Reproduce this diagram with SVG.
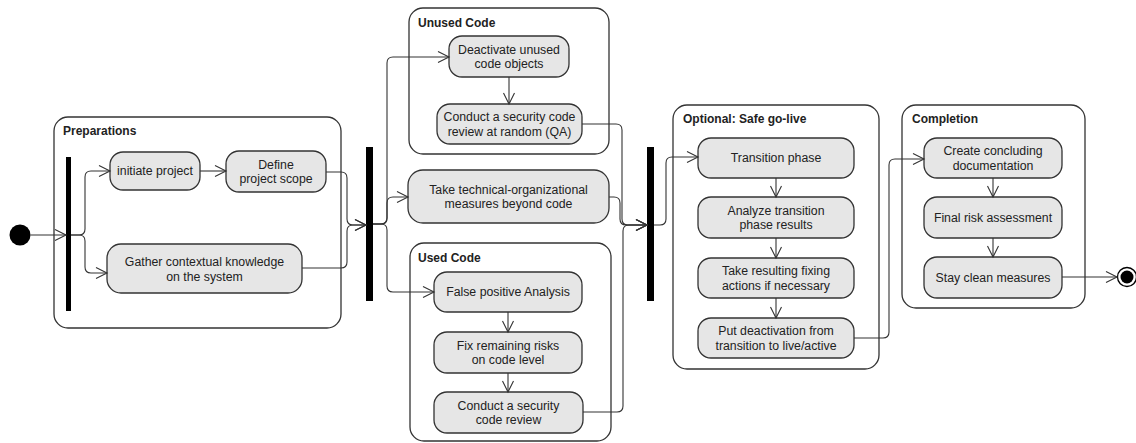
<svg xmlns="http://www.w3.org/2000/svg" width="1136" height="443" viewBox="0 0 1136 443">
<defs>
<marker id="arr" markerUnits="userSpaceOnUse" markerWidth="14" markerHeight="14" refX="11" refY="6" orient="auto" overflow="visible">
<path d="M0,0.5 L11,6 L0,11.5" fill="none" stroke="#333" stroke-width="1.1"/>
</marker>
</defs>
<style>
.container{fill:#fff;stroke:#333;stroke-width:1.3}
.node rect{fill:#e6e6e6;stroke:#333;stroke-width:1.3}
text{font-family:"Liberation Sans",Arial,sans-serif;font-size:12.3px;fill:#222}
.lbl{text-anchor:middle}
.title{font-weight:bold;font-size:12px}
.bar{fill:#000}
#connectors path{fill:none;stroke:#333;stroke-width:1.1;marker-end:url(#arr)}
</style>
<rect width="1136" height="443" fill="#fff"/>

<!-- containers -->
<g id="preparations"><rect class="container" x="54" y="117" width="287" height="211" rx="14"/><text class="title" x="63" y="135">Preparations</text></g>
<g id="unused-code"><rect class="container" x="409" y="8" width="200" height="146" rx="14"/><text class="title" x="418" y="27">Unused Code</text></g>
<g id="used-code"><rect class="container" x="410" y="243" width="201" height="198" rx="14"/><text class="title" x="418" y="262">Used Code</text></g>
<g id="safe-go-live"><rect class="container" x="673" y="105" width="206" height="264" rx="14"/><text class="title" x="683" y="123">Optional: Safe go-live</text></g>
<g id="completion"><rect class="container" x="902" y="105" width="183" height="203" rx="14"/><text class="title" x="912" y="123">Completion</text></g>

<!-- start / bars / end -->
<g id="start"><circle cx="20" cy="235" r="10.5" fill="#000"/></g>
<g id="fork1"><rect class="bar" x="66" y="157" width="5" height="154"/></g>
<g id="join2"><rect class="bar" x="366" y="147" width="7" height="154"/></g>
<g id="join3"><rect class="bar" x="647" y="147" width="7" height="154"/></g>
<g id="end"><circle cx="1127" cy="277" r="9.5" fill="#fff" stroke="#000" stroke-width="1.3"/><circle cx="1127" cy="277" r="6.5" fill="#000"/></g>

<!-- nodes -->
<g id="initiate" class="node"><rect x="110" y="152" width="90" height="38" rx="13"/><text class="lbl" x="155" y="175.3">initiate project</text></g>
<g id="define" class="node"><rect x="226" y="151" width="100" height="41" rx="13"/><text class="lbl" x="276" y="168.5">Define</text><text class="lbl" x="276" y="183">project scope</text></g>
<g id="gather" class="node"><rect x="107" y="244" width="195" height="49" rx="14"/><text class="lbl" x="204.5" y="266">Gather contextual knowledge</text><text class="lbl" x="204.5" y="280.5">on the system</text></g>
<g id="deactivate" class="node"><rect x="449" y="36" width="120" height="41" rx="13"/><text class="lbl" x="509" y="53.5">Deactivate unused</text><text class="lbl" x="509" y="68">code objects</text></g>
<g id="qa-review" class="node"><rect x="437" y="104" width="145" height="40" rx="13"/><text class="lbl" x="509.5" y="121">Conduct a security code</text><text class="lbl" x="509.5" y="135.5">review at random (QA)</text></g>
<g id="tom" class="node"><rect x="408" y="170" width="201" height="53" rx="15"/><text class="lbl" x="508.5" y="193.5">Take technical-organizational</text><text class="lbl" x="508.5" y="208">measures beyond code</text></g>
<g id="false-positive" class="node"><rect x="434" y="272" width="148" height="40" rx="13"/><text class="lbl" x="508" y="296.3">False positive Analysis</text></g>
<g id="fix-risks" class="node"><rect x="434" y="332" width="148" height="41" rx="13"/><text class="lbl" x="508" y="349.5">Fix remaining risks</text><text class="lbl" x="508" y="364">on code level</text></g>
<g id="code-review" class="node"><rect x="434" y="392" width="149" height="41" rx="13"/><text class="lbl" x="508.5" y="409.5">Conduct a security</text><text class="lbl" x="508.5" y="424">code review</text></g>
<g id="transition" class="node"><rect x="698" y="138" width="156" height="40" rx="13"/><text class="lbl" x="776" y="162.3">Transition phase</text></g>
<g id="analyze" class="node"><rect x="698" y="197" width="156" height="41" rx="13"/><text class="lbl" x="776" y="214.5">Analyze transition</text><text class="lbl" x="776" y="229">phase results</text></g>
<g id="fixing-actions" class="node"><rect x="698" y="258" width="156" height="40" rx="13"/><text class="lbl" x="776" y="275">Take resulting fixing</text><text class="lbl" x="776" y="289.5">actions if necessary</text></g>
<g id="put-live" class="node"><rect x="698" y="318" width="156" height="40" rx="13"/><text class="lbl" x="776" y="335">Put deactivation from</text><text class="lbl" x="776" y="349.5">transition to live/active</text></g>
<g id="documentation" class="node"><rect x="924" y="138" width="138" height="40" rx="13"/><text class="lbl" x="993" y="155">Create concluding</text><text class="lbl" x="993" y="169.5">documentation</text></g>
<g id="final-risk" class="node"><rect x="924" y="197" width="138" height="41" rx="13"/><text class="lbl" x="993" y="221.8">Final risk assessment</text></g>
<g id="stay-clean" class="node"><rect x="924" y="257" width="138" height="41" rx="13"/><text class="lbl" x="993" y="281.8">Stay clean measures</text></g>

<!-- connectors -->
<g id="connectors">
<path d="M30.5,235 L66,235"/>
<path d="M71,235 L79,235 Q85,235 85,229 L85,177 Q85,171 91,171 L110,171"/>
<path d="M71,235 L79,235 Q85,235 85,241 L85,267 Q85,273 91,273 L107,273"/>
<path d="M200,171 L226,171"/>
<path d="M326,172 L341,172 Q347,172 347,178 L347,219 Q347,225 353,225 L366,225"/>
<path d="M302,268 L341,268 Q347,268 347,262 L347,231 Q347,225 353,225 L366,225"/>
<path d="M373,224 L381,224 Q387,224 387,218 L387,63 Q387,57 393,57 L449,57"/>
<path d="M373,224 L381,224 Q387,224 387,218 L387,203 Q387,197 393,197 L408,197"/>
<path d="M373,224 L381,224 Q387,224 387,230 L387,286 Q387,292 393,292 L434,292"/>
<path d="M509,77 L509,104"/>
<path d="M582,124 L616,124 Q622,124 622,130 L622,219 Q622,225 628,225 L647,225"/>
<path d="M609,197 L614,197 Q620,197 620,203 L620,219 Q620,225 626,225 L647,225"/>
<path d="M583,412 L617,412 Q623,412 623,406 L623,231 Q623,225 629,225 L647,225"/>
<path d="M508,312 L508,332"/>
<path d="M508,373 L508,392"/>
<path d="M654,225 L660,225 Q666,225 666,219 L666,163 Q666,157 672,157 L698,157"/>
<path d="M776,178 L776,197"/>
<path d="M776,238 L776,258"/>
<path d="M776,298 L776,318"/>
<path d="M854,338 L883,338 Q889,338 889,332 L889,165 Q889,159 895,159 L924,159"/>
<path d="M993,178 L993,197"/>
<path d="M993,238 L993,257"/>
<path d="M1062,277 L1117,277"/>
</g>
</svg>
